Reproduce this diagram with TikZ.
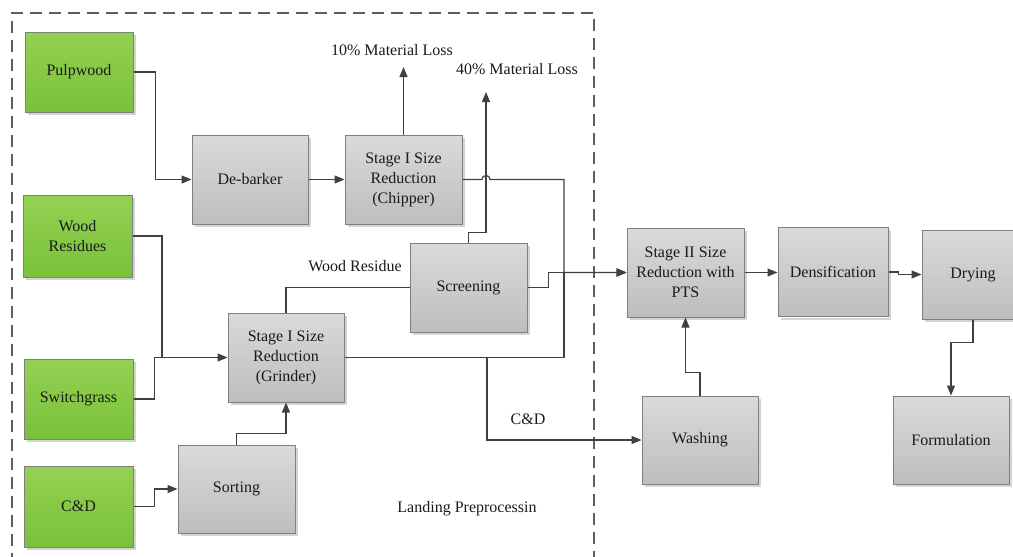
\documentclass[tikz,border=0pt]{standalone}
\usepackage{fontspec}
\setmainfont{Liberation Serif}
\usetikzlibrary{arrows.meta,calc}
\definecolor{linec}{HTML}{404040}
\definecolor{boxborder}{HTML}{7F7F7F}
\definecolor{graytop}{HTML}{DADADA}
\definecolor{graybot}{HTML}{BEBEBE}
\definecolor{greentop}{HTML}{93D152}
\definecolor{greenbot}{HTML}{7BC13A}
\definecolor{shadowc}{HTML}{D4D4D4}
\definecolor{txt}{HTML}{1A1A1A}
\newcommand{\boxfont}{\rmfamily\fontsize{16}{20}\selectfont}
\begin{document}
\begin{tikzpicture}[x=1pt,y=-1pt,
  every node/.style={font=\boxfont, text=txt},
  vgrad/.style 2 args={path picture={
    \foreach \k in {0,...,29}{
      \pgfmathsetmacro\pct{100-\k*100/29}
      \fill[#1!\pct!#2]
        ($(path picture bounding box.north west)!\k/30!(path picture bounding box.south west)$)
        rectangle
        ($(path picture bounding box.north east)!{(\k+1.3)/30}!(path picture bounding box.south east)$);
    }}},
  procbox/.style={draw=boxborder, line width=1pt, fill=graybot, vgrad={graytop}{graybot},
    inner sep=0pt, align=center},
  srcbox/.style={procbox, fill=greenbot, vgrad={greentop}{greenbot}},
  shadowline/.style={draw=shadowc, line width=2pt},
  conn/.style={draw=linec, line width=1.2pt},
  arr/.style={conn, -{Triangle[length=10pt,width=8pt]}},
  frame/.style={draw=linec!85, line width=1.2pt, dash pattern=on 12pt off 7pt},
  lbl/.style={inner sep=0pt}
]
\useasboundingbox (0,0) rectangle (1013,557);
\clip (0,0) rectangle (1013,557);

% dashed frame
\draw[frame] (12,565) -- (12,13) -- (594,13) -- (594,565);

% source boxes
\node[srcbox, minimum width=108pt, minimum height=80pt] (Pulp) at (79,72) {Pulpwood};
\node[srcbox, minimum width=109pt, minimum height=82pt] (WoodRes) at (77.5,236) {Wood\\Residues};
\node[srcbox, minimum width=109pt, minimum height=80pt] (Switch) at (78.5,399) {Switchgrass};
\node[srcbox, minimum width=109pt, minimum height=81pt] (CD) at (78.5,506.5) {C\&D};

% process boxes
\node[procbox, minimum width=116pt, minimum height=89pt] (Debarker) at (250,179.5) {De-barker};
\node[procbox, minimum width=117pt, minimum height=89pt] (Chipper) at (403.5,179.5) {Stage I Size\\Reduction\\(Chipper)};
\node[procbox, minimum width=117pt, minimum height=89pt] (Screening) at (468.5,287.5) {Screening};
\node[procbox, minimum width=116pt, minimum height=89pt] (Grinder) at (286,357.5) {Stage I Size\\Reduction\\(Grinder)};
\node[procbox, minimum width=117pt, minimum height=88pt] (Sorting) at (236.5,489) {Sorting};
\node[procbox, minimum width=117pt, minimum height=89pt] (StageII) at (685.5,272.5) {Stage II Size\\Reduction with\\PTS};
\node[procbox, minimum width=110pt, minimum height=89pt] (Dens) at (833,272) {Densification};
\node[procbox, minimum width=102pt, minimum height=89pt] (Drying) at (973,274.5) {Drying};
\node[procbox, minimum width=116pt, minimum height=88pt] (Washing) at (700,440) {Washing};
\node[procbox, minimum width=116pt, minimum height=88pt] (Form) at (951,440) {Formulation};

% soft shadows along right and bottom edges
\foreach \n in {Pulp,WoodRes,Switch,CD,Debarker,Chipper,Screening,Grinder,Sorting,StageII,Dens,Drying,Washing,Form}{
  \draw[shadowline] ($(\n.north east)+(1.5,3)$) -- ($(\n.south east)+(1.5,1.5)$) -- ($(\n.south west)+(3,1.5)$);
}

% labels
\node[lbl] (l10) at (392,50) {10\% Material Loss};
\node[lbl] (l40) at (517,69) {40\% Material Loss};
\node[lbl] (lwr) at (355,266) {Wood Residue};
\node[lbl] (lcd) at (528,419) {C\&D};
\node[lbl] (llp) at (467,509) {Landing Preprocessin};

% helper coordinates
\coordinate (loss10) at (403.5,67);
\coordinate (loss40) at (486,92);
\coordinate (hopL) at (482,179.5);
\coordinate (hopR) at (490,179.5);
\coordinate (mergeTop) at (564,179.5);
\coordinate (merge) at (564,272.5);
\coordinate (mergeBot) at (564,357.5);
\coordinate (cdb) at (487,357.5);
\coordinate (wrj) at (162,357.5);

% connectors
\draw[arr] (Pulp.east) -- ++(22,0) |- (Debarker.west);
\draw[arr] (Debarker.east) -- (Chipper.west);
\draw[arr] (Chipper.north) -- (loss10);
\draw[arr] (Chipper.east) -- (hopL) .. controls +(0,-5.3) and +(0,-5.3) .. (hopR) -- (mergeTop) -- (merge) -- (StageII.west);
\draw[arr] (Screening.north) -- ++(0,-10) -| (loss40);
\draw[arr] (Screening.east) -- ++(21,0) |- (StageII.west);
\draw[conn] (Grinder.north) |- (Screening.west);
\draw[conn] (WoodRes.east) -| (wrj);
\draw[arr] (Switch.east) -- ++(21,0) |- (Grinder.west);
\draw[arr] (CD.east) -- ++(21,0) |- (Sorting.west);
\draw[arr] (Sorting.north) -- ++(0,-11) -| (Grinder.south);
\draw[arr] (Grinder.east) -- (mergeBot) -- (merge) -- (StageII.west);
\draw[arr] (cdb) |- (Washing.west);
\draw[arr] (Washing.north) -- ++(0,-23) -| (StageII.south);
\draw[arr] (StageII.east) -- (StageII.east -| Dens.west);
\draw[arr] (Dens.east) -- ++(10,0) |- (Drying.west);
\draw[arr] (Drying.south) -- ++(0,23) -| (Form.north);
\end{tikzpicture}
\end{document}
